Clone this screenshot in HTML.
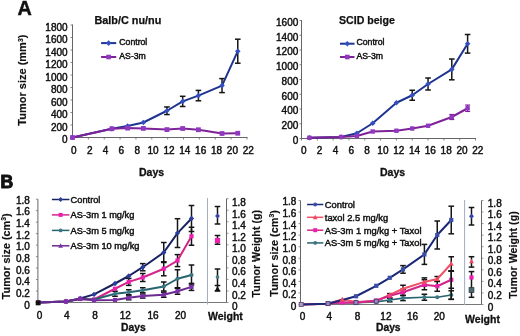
<!DOCTYPE html><html><head><meta charset="utf-8"><style>html,body{margin:0;padding:0;background:#fff;overflow:hidden;}svg{display:block;will-change:transform;filter:blur(0.25px);}text{font-family:"Liberation Sans", sans-serif;}</style></head><body>
<svg width="520" height="336" viewBox="0 0 520 336">
<rect width="520" height="336" fill="#fff"/>
<text x="17.40" y="15.40" font-size="19.8" font-weight="bold" text-anchor="start" fill="#111" stroke="#111" stroke-width="0.45" >A</text>
<text x="0.60" y="187.90" font-size="17.6" font-weight="bold" text-anchor="start" fill="#111" stroke="#111" stroke-width="1.0" >B</text>
<line x1="72.50" y1="24.50" x2="72.50" y2="138.00" stroke="#666666" stroke-width="1" />
<line x1="72.00" y1="137.50" x2="247.46" y2="137.50" stroke="#666666" stroke-width="1" />
<line x1="70.50" y1="137.50" x2="72.50" y2="137.50" stroke="#666666" stroke-width="0.8" />
<text x="67.60" y="143.10" font-size="10" font-weight="normal" text-anchor="end" fill="#111" stroke="#111" stroke-width="0.45" >0</text>
<line x1="70.50" y1="125.00" x2="72.50" y2="125.00" stroke="#666666" stroke-width="0.8" />
<text x="67.60" y="130.60" font-size="10" font-weight="normal" text-anchor="end" fill="#111" stroke="#111" stroke-width="0.45" >200</text>
<line x1="70.50" y1="112.50" x2="72.50" y2="112.50" stroke="#666666" stroke-width="0.8" />
<text x="67.60" y="118.10" font-size="10" font-weight="normal" text-anchor="end" fill="#111" stroke="#111" stroke-width="0.45" >400</text>
<line x1="70.50" y1="100.00" x2="72.50" y2="100.00" stroke="#666666" stroke-width="0.8" />
<text x="67.60" y="105.60" font-size="10" font-weight="normal" text-anchor="end" fill="#111" stroke="#111" stroke-width="0.45" >600</text>
<line x1="70.50" y1="87.50" x2="72.50" y2="87.50" stroke="#666666" stroke-width="0.8" />
<text x="67.60" y="93.10" font-size="10" font-weight="normal" text-anchor="end" fill="#111" stroke="#111" stroke-width="0.45" >800</text>
<line x1="70.50" y1="75.00" x2="72.50" y2="75.00" stroke="#666666" stroke-width="0.8" />
<text x="67.60" y="80.60" font-size="10" font-weight="normal" text-anchor="end" fill="#111" stroke="#111" stroke-width="0.45" >1000</text>
<line x1="70.50" y1="62.50" x2="72.50" y2="62.50" stroke="#666666" stroke-width="0.8" />
<text x="67.60" y="68.10" font-size="10" font-weight="normal" text-anchor="end" fill="#111" stroke="#111" stroke-width="0.45" >1200</text>
<line x1="70.50" y1="50.00" x2="72.50" y2="50.00" stroke="#666666" stroke-width="0.8" />
<text x="67.60" y="55.60" font-size="10" font-weight="normal" text-anchor="end" fill="#111" stroke="#111" stroke-width="0.45" >1400</text>
<line x1="70.50" y1="37.50" x2="72.50" y2="37.50" stroke="#666666" stroke-width="0.8" />
<text x="67.60" y="43.10" font-size="10" font-weight="normal" text-anchor="end" fill="#111" stroke="#111" stroke-width="0.45" >1600</text>
<line x1="70.50" y1="25.00" x2="72.50" y2="25.00" stroke="#666666" stroke-width="0.8" />
<text x="67.60" y="30.60" font-size="10" font-weight="normal" text-anchor="end" fill="#111" stroke="#111" stroke-width="0.45" >1800</text>
<line x1="72.50" y1="137.50" x2="72.50" y2="139.50" stroke="#666666" stroke-width="0.8" />
<text x="73.80" y="153.90" font-size="10" font-weight="normal" text-anchor="middle" fill="#111" stroke="#111" stroke-width="0.45" >0</text>
<line x1="88.36" y1="137.50" x2="88.36" y2="139.50" stroke="#666666" stroke-width="0.8" />
<text x="89.66" y="153.90" font-size="10" font-weight="normal" text-anchor="middle" fill="#111" stroke="#111" stroke-width="0.45" >2</text>
<line x1="104.22" y1="137.50" x2="104.22" y2="139.50" stroke="#666666" stroke-width="0.8" />
<text x="105.52" y="153.90" font-size="10" font-weight="normal" text-anchor="middle" fill="#111" stroke="#111" stroke-width="0.45" >4</text>
<line x1="120.08" y1="137.50" x2="120.08" y2="139.50" stroke="#666666" stroke-width="0.8" />
<text x="121.38" y="153.90" font-size="10" font-weight="normal" text-anchor="middle" fill="#111" stroke="#111" stroke-width="0.45" >6</text>
<line x1="135.94" y1="137.50" x2="135.94" y2="139.50" stroke="#666666" stroke-width="0.8" />
<text x="137.24" y="153.90" font-size="10" font-weight="normal" text-anchor="middle" fill="#111" stroke="#111" stroke-width="0.45" >8</text>
<line x1="151.80" y1="137.50" x2="151.80" y2="139.50" stroke="#666666" stroke-width="0.8" />
<text x="153.10" y="153.90" font-size="10" font-weight="normal" text-anchor="middle" fill="#111" stroke="#111" stroke-width="0.45" >10</text>
<line x1="167.66" y1="137.50" x2="167.66" y2="139.50" stroke="#666666" stroke-width="0.8" />
<text x="168.96" y="153.90" font-size="10" font-weight="normal" text-anchor="middle" fill="#111" stroke="#111" stroke-width="0.45" >12</text>
<line x1="183.52" y1="137.50" x2="183.52" y2="139.50" stroke="#666666" stroke-width="0.8" />
<text x="184.82" y="153.90" font-size="10" font-weight="normal" text-anchor="middle" fill="#111" stroke="#111" stroke-width="0.45" >14</text>
<line x1="199.38" y1="137.50" x2="199.38" y2="139.50" stroke="#666666" stroke-width="0.8" />
<text x="200.68" y="153.90" font-size="10" font-weight="normal" text-anchor="middle" fill="#111" stroke="#111" stroke-width="0.45" >16</text>
<line x1="215.24" y1="137.50" x2="215.24" y2="139.50" stroke="#666666" stroke-width="0.8" />
<text x="216.54" y="153.90" font-size="10" font-weight="normal" text-anchor="middle" fill="#111" stroke="#111" stroke-width="0.45" >18</text>
<line x1="231.10" y1="137.50" x2="231.10" y2="139.50" stroke="#666666" stroke-width="0.8" />
<text x="232.40" y="153.90" font-size="10" font-weight="normal" text-anchor="middle" fill="#111" stroke="#111" stroke-width="0.45" >20</text>
<line x1="246.96" y1="137.50" x2="246.96" y2="139.50" stroke="#666666" stroke-width="0.8" />
<text x="248.26" y="153.90" font-size="10" font-weight="normal" text-anchor="middle" fill="#111" stroke="#111" stroke-width="0.45" >22</text>
<text x="94.50" y="23.80" font-size="10.85" font-weight="bold" text-anchor="start" fill="#111" stroke="#111" stroke-width="0.25" >Balb/C nu/nu</text>
<text x="151.60" y="176.00" font-size="10.5" font-weight="bold" text-anchor="middle" fill="#111" stroke="#111" stroke-width="0.3" >Days</text>
<text x="392.60" y="175.80" font-size="10.5" font-weight="bold" text-anchor="middle" fill="#111" stroke="#111" stroke-width="0.3" >Days</text>
<text transform="translate(26.30,80.15) rotate(-90)" font-size="11" font-weight="bold" text-anchor="middle" fill="#111" stroke="#111" stroke-width="0.15">Tumor size (mm<tspan font-size="6.8" dy="-3.8">3</tspan><tspan dy="3.8">)</tspan></text>
<line x1="101.10" y1="43.10" x2="116.20" y2="43.10" stroke="#1e3490" stroke-width="2" />
<path d="M108.60,40.30 L111.40,43.10 L108.60,45.90 L105.80,43.10 Z" fill="#3450c0"/>
<text x="119.30" y="44.80" font-size="8.7" font-weight="normal" text-anchor="start" fill="#111" stroke="#111" stroke-width="0.45" >Control</text>
<line x1="101.10" y1="57.00" x2="116.20" y2="57.00" stroke="#7e2298" stroke-width="2" />
<rect x="106.30" y="54.70" width="4.60" height="4.60" fill="#9038c0"/>
<text x="119.30" y="58.70" font-size="8.7" font-weight="normal" text-anchor="start" fill="#111" stroke="#111" stroke-width="0.45" >AS-3m</text>
<line x1="166.94" y1="106.95" x2="166.94" y2="114.55" stroke="#151515" stroke-width="1.5" />
<line x1="164.14" y1="106.95" x2="169.74" y2="106.95" stroke="#151515" stroke-width="1.5" />
<line x1="164.14" y1="114.55" x2="169.74" y2="114.55" stroke="#151515" stroke-width="1.5" />
<line x1="182.68" y1="96.30" x2="182.68" y2="106.50" stroke="#151515" stroke-width="1.5" />
<line x1="179.88" y1="96.30" x2="185.48" y2="96.30" stroke="#151515" stroke-width="1.5" />
<line x1="179.88" y1="106.50" x2="185.48" y2="106.50" stroke="#151515" stroke-width="1.5" />
<line x1="198.42" y1="90.40" x2="198.42" y2="100.80" stroke="#151515" stroke-width="1.5" />
<line x1="195.62" y1="90.40" x2="201.22" y2="90.40" stroke="#151515" stroke-width="1.5" />
<line x1="195.62" y1="100.80" x2="201.22" y2="100.80" stroke="#151515" stroke-width="1.5" />
<line x1="222.03" y1="78.60" x2="222.03" y2="92.60" stroke="#151515" stroke-width="1.5" />
<line x1="219.23" y1="78.60" x2="224.83" y2="78.60" stroke="#151515" stroke-width="1.5" />
<line x1="219.23" y1="92.60" x2="224.83" y2="92.60" stroke="#151515" stroke-width="1.5" />
<line x1="237.77" y1="39.20" x2="237.77" y2="63.20" stroke="#151515" stroke-width="1.5" />
<line x1="234.97" y1="39.20" x2="240.57" y2="39.20" stroke="#151515" stroke-width="1.5" />
<line x1="234.97" y1="63.20" x2="240.57" y2="63.20" stroke="#151515" stroke-width="1.5" />
<polyline points="72.50,137.50 111.85,128.80 127.59,126.00 143.33,122.50 166.94,110.75 182.68,101.40 198.42,95.60 222.03,85.60 237.77,51.20" fill="none" stroke="#1e3490" stroke-width="2" stroke-linejoin="round"/>
<path d="M72.50,134.70 L75.30,137.50 L72.50,140.30 L69.70,137.50 Z" fill="#3450c0"/>
<path d="M111.85,126.00 L114.65,128.80 L111.85,131.60 L109.05,128.80 Z" fill="#3450c0"/>
<path d="M127.59,123.20 L130.39,126.00 L127.59,128.80 L124.79,126.00 Z" fill="#3450c0"/>
<path d="M143.33,119.70 L146.13,122.50 L143.33,125.30 L140.53,122.50 Z" fill="#3450c0"/>
<path d="M166.94,107.95 L169.74,110.75 L166.94,113.55 L164.14,110.75 Z" fill="#3450c0"/>
<path d="M182.68,98.60 L185.48,101.40 L182.68,104.20 L179.88,101.40 Z" fill="#3450c0"/>
<path d="M198.42,92.80 L201.22,95.60 L198.42,98.40 L195.62,95.60 Z" fill="#3450c0"/>
<path d="M222.03,82.80 L224.83,85.60 L222.03,88.40 L219.23,85.60 Z" fill="#3450c0"/>
<path d="M237.77,48.40 L240.57,51.20 L237.77,54.00 L234.97,51.20 Z" fill="#3450c0"/>
<polyline points="72.50,137.50 111.85,128.75 127.59,128.10 143.33,128.40 166.94,129.60 182.68,128.50 198.42,129.75 222.03,133.50 237.77,133.25" fill="none" stroke="#7e2298" stroke-width="2" stroke-linejoin="round"/>
<rect x="70.10" y="135.10" width="4.80" height="4.80" fill="#9038c0"/>
<rect x="109.45" y="126.35" width="4.80" height="4.80" fill="#9038c0"/>
<rect x="125.19" y="125.70" width="4.80" height="4.80" fill="#9038c0"/>
<rect x="140.93" y="126.00" width="4.80" height="4.80" fill="#9038c0"/>
<rect x="164.54" y="127.20" width="4.80" height="4.80" fill="#9038c0"/>
<rect x="180.28" y="126.10" width="4.80" height="4.80" fill="#9038c0"/>
<rect x="196.02" y="127.35" width="4.80" height="4.80" fill="#9038c0"/>
<rect x="219.63" y="131.10" width="4.80" height="4.80" fill="#9038c0"/>
<rect x="235.37" y="130.85" width="4.80" height="4.80" fill="#9038c0"/>
<line x1="301.50" y1="20.00" x2="301.50" y2="139.00" stroke="#666666" stroke-width="1" />
<line x1="301.00" y1="138.50" x2="476.02" y2="138.50" stroke="#666666" stroke-width="1" />
<line x1="299.50" y1="138.50" x2="301.50" y2="138.50" stroke="#666666" stroke-width="0.8" />
<text x="298.30" y="143.90" font-size="10" font-weight="normal" text-anchor="end" fill="#111" stroke="#111" stroke-width="0.45" >0</text>
<line x1="299.50" y1="123.75" x2="301.50" y2="123.75" stroke="#666666" stroke-width="0.8" />
<text x="298.30" y="129.15" font-size="10" font-weight="normal" text-anchor="end" fill="#111" stroke="#111" stroke-width="0.45" >200</text>
<line x1="299.50" y1="109.00" x2="301.50" y2="109.00" stroke="#666666" stroke-width="0.8" />
<text x="298.30" y="114.40" font-size="10" font-weight="normal" text-anchor="end" fill="#111" stroke="#111" stroke-width="0.45" >400</text>
<line x1="299.50" y1="94.25" x2="301.50" y2="94.25" stroke="#666666" stroke-width="0.8" />
<text x="298.30" y="99.65" font-size="10" font-weight="normal" text-anchor="end" fill="#111" stroke="#111" stroke-width="0.45" >600</text>
<line x1="299.50" y1="79.50" x2="301.50" y2="79.50" stroke="#666666" stroke-width="0.8" />
<text x="298.30" y="84.90" font-size="10" font-weight="normal" text-anchor="end" fill="#111" stroke="#111" stroke-width="0.45" >800</text>
<line x1="299.50" y1="64.75" x2="301.50" y2="64.75" stroke="#666666" stroke-width="0.8" />
<text x="298.30" y="70.15" font-size="10" font-weight="normal" text-anchor="end" fill="#111" stroke="#111" stroke-width="0.45" >1000</text>
<line x1="299.50" y1="50.00" x2="301.50" y2="50.00" stroke="#666666" stroke-width="0.8" />
<text x="298.30" y="55.40" font-size="10" font-weight="normal" text-anchor="end" fill="#111" stroke="#111" stroke-width="0.45" >1200</text>
<line x1="299.50" y1="35.25" x2="301.50" y2="35.25" stroke="#666666" stroke-width="0.8" />
<text x="298.30" y="40.65" font-size="10" font-weight="normal" text-anchor="end" fill="#111" stroke="#111" stroke-width="0.45" >1400</text>
<line x1="299.50" y1="20.50" x2="301.50" y2="20.50" stroke="#666666" stroke-width="0.8" />
<text x="298.30" y="25.90" font-size="10" font-weight="normal" text-anchor="end" fill="#111" stroke="#111" stroke-width="0.45" >1600</text>
<line x1="301.50" y1="138.50" x2="301.50" y2="140.50" stroke="#666666" stroke-width="0.8" />
<text x="303.80" y="153.90" font-size="10" font-weight="normal" text-anchor="middle" fill="#111" stroke="#111" stroke-width="0.45" >0</text>
<line x1="317.32" y1="138.50" x2="317.32" y2="140.50" stroke="#666666" stroke-width="0.8" />
<text x="319.62" y="153.90" font-size="10" font-weight="normal" text-anchor="middle" fill="#111" stroke="#111" stroke-width="0.45" >2</text>
<line x1="333.14" y1="138.50" x2="333.14" y2="140.50" stroke="#666666" stroke-width="0.8" />
<text x="335.44" y="153.90" font-size="10" font-weight="normal" text-anchor="middle" fill="#111" stroke="#111" stroke-width="0.45" >4</text>
<line x1="348.96" y1="138.50" x2="348.96" y2="140.50" stroke="#666666" stroke-width="0.8" />
<text x="351.26" y="153.90" font-size="10" font-weight="normal" text-anchor="middle" fill="#111" stroke="#111" stroke-width="0.45" >6</text>
<line x1="364.78" y1="138.50" x2="364.78" y2="140.50" stroke="#666666" stroke-width="0.8" />
<text x="367.08" y="153.90" font-size="10" font-weight="normal" text-anchor="middle" fill="#111" stroke="#111" stroke-width="0.45" >8</text>
<line x1="380.60" y1="138.50" x2="380.60" y2="140.50" stroke="#666666" stroke-width="0.8" />
<text x="382.90" y="153.90" font-size="10" font-weight="normal" text-anchor="middle" fill="#111" stroke="#111" stroke-width="0.45" >10</text>
<line x1="396.42" y1="138.50" x2="396.42" y2="140.50" stroke="#666666" stroke-width="0.8" />
<text x="398.72" y="153.90" font-size="10" font-weight="normal" text-anchor="middle" fill="#111" stroke="#111" stroke-width="0.45" >12</text>
<line x1="412.24" y1="138.50" x2="412.24" y2="140.50" stroke="#666666" stroke-width="0.8" />
<text x="414.54" y="153.90" font-size="10" font-weight="normal" text-anchor="middle" fill="#111" stroke="#111" stroke-width="0.45" >14</text>
<line x1="428.06" y1="138.50" x2="428.06" y2="140.50" stroke="#666666" stroke-width="0.8" />
<text x="430.36" y="153.90" font-size="10" font-weight="normal" text-anchor="middle" fill="#111" stroke="#111" stroke-width="0.45" >16</text>
<line x1="443.88" y1="138.50" x2="443.88" y2="140.50" stroke="#666666" stroke-width="0.8" />
<text x="446.18" y="153.90" font-size="10" font-weight="normal" text-anchor="middle" fill="#111" stroke="#111" stroke-width="0.45" >18</text>
<line x1="459.70" y1="138.50" x2="459.70" y2="140.50" stroke="#666666" stroke-width="0.8" />
<text x="462.00" y="153.90" font-size="10" font-weight="normal" text-anchor="middle" fill="#111" stroke="#111" stroke-width="0.45" >20</text>
<line x1="475.52" y1="138.50" x2="475.52" y2="140.50" stroke="#666666" stroke-width="0.8" />
<text x="477.82" y="153.90" font-size="10" font-weight="normal" text-anchor="middle" fill="#111" stroke="#111" stroke-width="0.45" >22</text>
<text x="339.00" y="23.60" font-size="10.6" font-weight="bold" text-anchor="start" fill="#111" stroke="#111" stroke-width="0.25" >SCID beige</text>
<line x1="340.00" y1="43.70" x2="354.50" y2="43.70" stroke="#1e3490" stroke-width="2" />
<path d="M347.30,40.90 L350.10,43.70 L347.30,46.50 L344.50,43.70 Z" fill="#3450c0"/>
<text x="356.50" y="44.60" font-size="8.7" font-weight="normal" text-anchor="start" fill="#111" stroke="#111" stroke-width="0.45" >Control</text>
<line x1="340.00" y1="57.00" x2="354.50" y2="57.00" stroke="#7e2298" stroke-width="2" />
<rect x="345.00" y="54.70" width="4.60" height="4.60" fill="#9038c0"/>
<text x="356.50" y="58.70" font-size="8.7" font-weight="normal" text-anchor="start" fill="#111" stroke="#111" stroke-width="0.45" >AS-3m</text>
<line x1="412.24" y1="90.25" x2="412.24" y2="100.25" stroke="#151515" stroke-width="1.5" />
<line x1="409.44" y1="90.25" x2="415.04" y2="90.25" stroke="#151515" stroke-width="1.5" />
<line x1="409.44" y1="100.25" x2="415.04" y2="100.25" stroke="#151515" stroke-width="1.5" />
<line x1="428.06" y1="78.00" x2="428.06" y2="90.00" stroke="#151515" stroke-width="1.5" />
<line x1="425.26" y1="78.00" x2="430.86" y2="78.00" stroke="#151515" stroke-width="1.5" />
<line x1="425.26" y1="90.00" x2="430.86" y2="90.00" stroke="#151515" stroke-width="1.5" />
<line x1="451.79" y1="59.00" x2="451.79" y2="79.80" stroke="#151515" stroke-width="1.5" />
<line x1="448.99" y1="59.00" x2="454.59" y2="59.00" stroke="#151515" stroke-width="1.5" />
<line x1="448.99" y1="79.80" x2="454.59" y2="79.80" stroke="#151515" stroke-width="1.5" />
<line x1="467.61" y1="34.50" x2="467.61" y2="53.10" stroke="#151515" stroke-width="1.5" />
<line x1="464.81" y1="34.50" x2="470.41" y2="34.50" stroke="#151515" stroke-width="1.5" />
<line x1="464.81" y1="53.10" x2="470.41" y2="53.10" stroke="#151515" stroke-width="1.5" />
<line x1="451.79" y1="114.50" x2="451.79" y2="119.50" stroke="#7e2298" stroke-width="1.2" />
<line x1="449.29" y1="114.50" x2="454.29" y2="114.50" stroke="#7e2298" stroke-width="1.2" />
<line x1="449.29" y1="119.50" x2="454.29" y2="119.50" stroke="#7e2298" stroke-width="1.2" />
<line x1="467.61" y1="105.05" x2="467.61" y2="111.45" stroke="#7e2298" stroke-width="1.2" />
<line x1="465.11" y1="105.05" x2="470.11" y2="105.05" stroke="#7e2298" stroke-width="1.2" />
<line x1="465.11" y1="111.45" x2="470.11" y2="111.45" stroke="#7e2298" stroke-width="1.2" />
<polyline points="309.41,137.80 341.05,137.00 356.87,133.25 372.69,123.25 396.42,102.75 412.24,95.25 428.06,84.00 451.79,69.40 467.61,43.80" fill="none" stroke="#1e3490" stroke-width="2" stroke-linejoin="round"/>
<path d="M309.41,135.00 L312.21,137.80 L309.41,140.60 L306.61,137.80 Z" fill="#3450c0"/>
<path d="M341.05,134.20 L343.85,137.00 L341.05,139.80 L338.25,137.00 Z" fill="#3450c0"/>
<path d="M356.87,130.45 L359.67,133.25 L356.87,136.05 L354.07,133.25 Z" fill="#3450c0"/>
<path d="M372.69,120.45 L375.49,123.25 L372.69,126.05 L369.89,123.25 Z" fill="#3450c0"/>
<path d="M396.42,99.95 L399.22,102.75 L396.42,105.55 L393.62,102.75 Z" fill="#3450c0"/>
<path d="M412.24,92.45 L415.04,95.25 L412.24,98.05 L409.44,95.25 Z" fill="#3450c0"/>
<path d="M428.06,81.20 L430.86,84.00 L428.06,86.80 L425.26,84.00 Z" fill="#3450c0"/>
<path d="M451.79,66.60 L454.59,69.40 L451.79,72.20 L448.99,69.40 Z" fill="#3450c0"/>
<path d="M467.61,41.00 L470.41,43.80 L467.61,46.60 L464.81,43.80 Z" fill="#3450c0"/>
<polyline points="309.41,137.80 341.05,137.00 356.87,136.00 372.69,131.50 396.42,130.75 412.24,128.50 428.06,125.75 451.79,117.00 467.61,108.25" fill="none" stroke="#7e2298" stroke-width="2" stroke-linejoin="round"/>
<rect x="307.21" y="135.60" width="4.40" height="4.40" fill="#9038c0"/>
<rect x="338.85" y="134.80" width="4.40" height="4.40" fill="#9038c0"/>
<rect x="354.67" y="133.80" width="4.40" height="4.40" fill="#9038c0"/>
<rect x="370.49" y="129.30" width="4.40" height="4.40" fill="#9038c0"/>
<rect x="394.22" y="128.55" width="4.40" height="4.40" fill="#9038c0"/>
<rect x="410.04" y="126.30" width="4.40" height="4.40" fill="#9038c0"/>
<rect x="425.86" y="123.55" width="4.40" height="4.40" fill="#9038c0"/>
<rect x="449.59" y="114.80" width="4.40" height="4.40" fill="#9038c0"/>
<rect x="465.41" y="106.05" width="4.40" height="4.40" fill="#9038c0"/>
<line x1="37.90" y1="199.20" x2="37.90" y2="303.00" stroke="#666666" stroke-width="1" />
<line x1="37.40" y1="302.50" x2="226.50" y2="302.50" stroke="#777" stroke-width="1" />
<line x1="35.90" y1="302.50" x2="37.90" y2="302.50" stroke="#666666" stroke-width="0.7" />
<text x="29.80" y="308.50" font-size="10" font-weight="normal" text-anchor="end" fill="#111" stroke="#111" stroke-width="0.45" >0</text>
<line x1="35.90" y1="291.02" x2="37.90" y2="291.02" stroke="#666666" stroke-width="0.7" />
<text x="29.80" y="296.87" font-size="10" font-weight="normal" text-anchor="end" fill="#111" stroke="#111" stroke-width="0.45" >0.2</text>
<line x1="35.90" y1="279.54" x2="37.90" y2="279.54" stroke="#666666" stroke-width="0.7" />
<text x="29.80" y="285.24" font-size="10" font-weight="normal" text-anchor="end" fill="#111" stroke="#111" stroke-width="0.45" >0.4</text>
<line x1="35.90" y1="268.07" x2="37.90" y2="268.07" stroke="#666666" stroke-width="0.7" />
<text x="29.80" y="273.61" font-size="10" font-weight="normal" text-anchor="end" fill="#111" stroke="#111" stroke-width="0.45" >0.6</text>
<line x1="35.90" y1="256.59" x2="37.90" y2="256.59" stroke="#666666" stroke-width="0.7" />
<text x="29.80" y="261.98" font-size="10" font-weight="normal" text-anchor="end" fill="#111" stroke="#111" stroke-width="0.45" >0.8</text>
<line x1="35.90" y1="245.11" x2="37.90" y2="245.11" stroke="#666666" stroke-width="0.7" />
<text x="29.80" y="250.35" font-size="10" font-weight="normal" text-anchor="end" fill="#111" stroke="#111" stroke-width="0.45" >1.0</text>
<line x1="35.90" y1="233.63" x2="37.90" y2="233.63" stroke="#666666" stroke-width="0.7" />
<text x="29.80" y="238.72" font-size="10" font-weight="normal" text-anchor="end" fill="#111" stroke="#111" stroke-width="0.45" >1.2</text>
<line x1="35.90" y1="222.16" x2="37.90" y2="222.16" stroke="#666666" stroke-width="0.7" />
<text x="29.80" y="227.09" font-size="10" font-weight="normal" text-anchor="end" fill="#111" stroke="#111" stroke-width="0.45" >1.4</text>
<line x1="35.90" y1="210.68" x2="37.90" y2="210.68" stroke="#666666" stroke-width="0.7" />
<text x="29.80" y="215.46" font-size="10" font-weight="normal" text-anchor="end" fill="#111" stroke="#111" stroke-width="0.45" >1.6</text>
<line x1="35.90" y1="199.20" x2="37.90" y2="199.20" stroke="#666666" stroke-width="0.7" />
<text x="29.80" y="203.83" font-size="10" font-weight="normal" text-anchor="end" fill="#111" stroke="#111" stroke-width="0.45" >1.8</text>
<text x="39.60" y="318.60" font-size="10" font-weight="normal" text-anchor="middle" fill="#111" stroke="#111" stroke-width="0.45" >0</text>
<text x="66.90" y="318.60" font-size="10" font-weight="normal" text-anchor="middle" fill="#111" stroke="#111" stroke-width="0.45" >4</text>
<text x="95.00" y="318.60" font-size="10" font-weight="normal" text-anchor="middle" fill="#111" stroke="#111" stroke-width="0.45" >8</text>
<text x="125.20" y="318.60" font-size="10" font-weight="normal" text-anchor="middle" fill="#111" stroke="#111" stroke-width="0.45" >12</text>
<text x="153.00" y="318.60" font-size="10" font-weight="normal" text-anchor="middle" fill="#111" stroke="#111" stroke-width="0.45" >16</text>
<text x="180.50" y="318.60" font-size="10" font-weight="normal" text-anchor="middle" fill="#111" stroke="#111" stroke-width="0.45" >20</text>
<text x="133.35" y="331.20" font-size="10.3" font-weight="bold" text-anchor="middle" fill="#111" stroke="#111" stroke-width="0.3" >Days</text>
<text transform="translate(9.60,256.30) rotate(-90)" font-size="10.8" font-weight="bold" text-anchor="middle" fill="#111" stroke="#111" stroke-width="0.15">Tumor size (cm<tspan font-size="6.8" dy="-3.8">3</tspan><tspan dy="3.8">)</tspan></text>
<line x1="51.90" y1="199.50" x2="69.40" y2="199.50" stroke="#18225f" stroke-width="1.5" />
<path d="M60.60,197.10 L63.00,199.50 L60.60,201.90 L58.20,199.50 Z" fill="#2c3c9c"/>
<text x="70.60" y="202.80" font-size="9.25" font-weight="normal" text-anchor="start" fill="#111" stroke="#111" stroke-width="0.45" >Control</text>
<line x1="51.90" y1="214.90" x2="69.40" y2="214.90" stroke="#d42689" stroke-width="1.5" />
<rect x="58.60" y="212.90" width="4.00" height="4.00" fill="#ec20b0"/>
<text x="70.60" y="218.20" font-size="9.25" font-weight="normal" text-anchor="start" fill="#111" stroke="#111" stroke-width="0.45" >AS-3m 1 mg/kg</text>
<line x1="51.90" y1="230.40" x2="69.40" y2="230.40" stroke="#28646f" stroke-width="1.5" />
<circle cx="60.60" cy="230.40" r="1.90" fill="#3a7684"/>
<text x="70.60" y="233.70" font-size="9.25" font-weight="normal" text-anchor="start" fill="#111" stroke="#111" stroke-width="0.45" >AS-3m 5 mg/kg</text>
<line x1="51.90" y1="245.80" x2="69.40" y2="245.80" stroke="#6a2a90" stroke-width="1.5" />
<path d="M60.60,243.27 L62.90,247.64 L58.30,247.64 Z" fill="#7a30a8"/>
<text x="70.60" y="249.10" font-size="9.25" font-weight="normal" text-anchor="start" fill="#111" stroke="#111" stroke-width="0.45" >AS-3m 10 mg/kg</text>
<line x1="142.75" y1="263.60" x2="142.75" y2="270.80" stroke="#151515" stroke-width="1.5" />
<line x1="139.95" y1="263.60" x2="145.55" y2="263.60" stroke="#151515" stroke-width="1.5" />
<line x1="139.95" y1="270.80" x2="145.55" y2="270.80" stroke="#151515" stroke-width="1.5" />
<line x1="163.75" y1="242.50" x2="163.75" y2="262.50" stroke="#151515" stroke-width="1.5" />
<line x1="160.95" y1="242.50" x2="166.55" y2="242.50" stroke="#151515" stroke-width="1.5" />
<line x1="160.95" y1="262.50" x2="166.55" y2="262.50" stroke="#151515" stroke-width="1.5" />
<line x1="177.50" y1="218.70" x2="177.50" y2="247.50" stroke="#151515" stroke-width="1.5" />
<line x1="174.70" y1="218.70" x2="180.30" y2="218.70" stroke="#151515" stroke-width="1.5" />
<line x1="174.70" y1="247.50" x2="180.30" y2="247.50" stroke="#151515" stroke-width="1.5" />
<line x1="191.50" y1="205.50" x2="191.50" y2="231.50" stroke="#151515" stroke-width="1.5" />
<line x1="188.70" y1="205.50" x2="194.30" y2="205.50" stroke="#151515" stroke-width="1.5" />
<line x1="188.70" y1="231.50" x2="194.30" y2="231.50" stroke="#151515" stroke-width="1.5" />
<line x1="128.75" y1="278.40" x2="128.75" y2="285.40" stroke="#151515" stroke-width="1.5" />
<line x1="125.95" y1="278.40" x2="131.55" y2="278.40" stroke="#151515" stroke-width="1.5" />
<line x1="125.95" y1="285.40" x2="131.55" y2="285.40" stroke="#151515" stroke-width="1.5" />
<line x1="142.75" y1="273.50" x2="142.75" y2="281.50" stroke="#151515" stroke-width="1.5" />
<line x1="139.95" y1="273.50" x2="145.55" y2="273.50" stroke="#151515" stroke-width="1.5" />
<line x1="139.95" y1="281.50" x2="145.55" y2="281.50" stroke="#151515" stroke-width="1.5" />
<line x1="163.75" y1="261.75" x2="163.75" y2="275.75" stroke="#151515" stroke-width="1.5" />
<line x1="160.95" y1="261.75" x2="166.55" y2="261.75" stroke="#151515" stroke-width="1.5" />
<line x1="160.95" y1="275.75" x2="166.55" y2="275.75" stroke="#151515" stroke-width="1.5" />
<line x1="177.50" y1="254.60" x2="177.50" y2="266.60" stroke="#151515" stroke-width="1.5" />
<line x1="174.70" y1="254.60" x2="180.30" y2="254.60" stroke="#151515" stroke-width="1.5" />
<line x1="174.70" y1="266.60" x2="180.30" y2="266.60" stroke="#151515" stroke-width="1.5" />
<line x1="191.50" y1="227.25" x2="191.50" y2="245.25" stroke="#151515" stroke-width="1.5" />
<line x1="188.70" y1="227.25" x2="194.30" y2="227.25" stroke="#151515" stroke-width="1.5" />
<line x1="188.70" y1="245.25" x2="194.30" y2="245.25" stroke="#151515" stroke-width="1.5" />
<line x1="115.00" y1="291.25" x2="115.00" y2="296.25" stroke="#151515" stroke-width="1.5" />
<line x1="112.20" y1="291.25" x2="117.80" y2="291.25" stroke="#151515" stroke-width="1.5" />
<line x1="112.20" y1="296.25" x2="117.80" y2="296.25" stroke="#151515" stroke-width="1.5" />
<line x1="128.75" y1="289.75" x2="128.75" y2="294.75" stroke="#151515" stroke-width="1.5" />
<line x1="125.95" y1="289.75" x2="131.55" y2="289.75" stroke="#151515" stroke-width="1.5" />
<line x1="125.95" y1="294.75" x2="131.55" y2="294.75" stroke="#151515" stroke-width="1.5" />
<line x1="142.75" y1="287.75" x2="142.75" y2="292.75" stroke="#151515" stroke-width="1.5" />
<line x1="139.95" y1="287.75" x2="145.55" y2="287.75" stroke="#151515" stroke-width="1.5" />
<line x1="139.95" y1="292.75" x2="145.55" y2="292.75" stroke="#151515" stroke-width="1.5" />
<line x1="163.75" y1="282.00" x2="163.75" y2="291.00" stroke="#151515" stroke-width="1.5" />
<line x1="160.95" y1="282.00" x2="166.55" y2="282.00" stroke="#151515" stroke-width="1.5" />
<line x1="160.95" y1="291.00" x2="166.55" y2="291.00" stroke="#151515" stroke-width="1.5" />
<line x1="177.50" y1="269.75" x2="177.50" y2="287.75" stroke="#151515" stroke-width="1.5" />
<line x1="174.70" y1="269.75" x2="180.30" y2="269.75" stroke="#151515" stroke-width="1.5" />
<line x1="174.70" y1="287.75" x2="180.30" y2="287.75" stroke="#151515" stroke-width="1.5" />
<line x1="191.50" y1="265.00" x2="191.50" y2="285.00" stroke="#151515" stroke-width="1.5" />
<line x1="188.70" y1="265.00" x2="194.30" y2="265.00" stroke="#151515" stroke-width="1.5" />
<line x1="188.70" y1="285.00" x2="194.30" y2="285.00" stroke="#151515" stroke-width="1.5" />
<line x1="128.75" y1="295.80" x2="128.75" y2="299.80" stroke="#151515" stroke-width="1.5" />
<line x1="125.95" y1="295.80" x2="131.55" y2="295.80" stroke="#151515" stroke-width="1.5" />
<line x1="125.95" y1="299.80" x2="131.55" y2="299.80" stroke="#151515" stroke-width="1.5" />
<line x1="142.75" y1="294.10" x2="142.75" y2="298.10" stroke="#151515" stroke-width="1.5" />
<line x1="139.95" y1="294.10" x2="145.55" y2="294.10" stroke="#151515" stroke-width="1.5" />
<line x1="139.95" y1="298.10" x2="145.55" y2="298.10" stroke="#151515" stroke-width="1.5" />
<line x1="163.75" y1="292.25" x2="163.75" y2="297.25" stroke="#151515" stroke-width="1.5" />
<line x1="160.95" y1="292.25" x2="166.55" y2="292.25" stroke="#151515" stroke-width="1.5" />
<line x1="160.95" y1="297.25" x2="166.55" y2="297.25" stroke="#151515" stroke-width="1.5" />
<line x1="177.50" y1="288.25" x2="177.50" y2="294.25" stroke="#151515" stroke-width="1.5" />
<line x1="174.70" y1="288.25" x2="180.30" y2="288.25" stroke="#151515" stroke-width="1.5" />
<line x1="174.70" y1="294.25" x2="180.30" y2="294.25" stroke="#151515" stroke-width="1.5" />
<line x1="191.50" y1="283.40" x2="191.50" y2="290.40" stroke="#151515" stroke-width="1.5" />
<line x1="188.70" y1="283.40" x2="194.30" y2="283.40" stroke="#151515" stroke-width="1.5" />
<line x1="188.70" y1="290.40" x2="194.30" y2="290.40" stroke="#151515" stroke-width="1.5" />
<polyline points="38.30,302.50 66.00,301.50 80.20,298.50 94.00,294.40 115.00,283.50 128.75,276.00 142.75,267.20 163.75,252.50 177.50,233.10 191.50,218.50" fill="none" stroke="#18225f" stroke-width="2" stroke-linejoin="round"/>
<path d="M38.30,299.80 L41.00,302.50 L38.30,305.20 L35.60,302.50 Z" fill="#2c3c9c"/>
<path d="M66.00,298.80 L68.70,301.50 L66.00,304.20 L63.30,301.50 Z" fill="#2c3c9c"/>
<path d="M80.20,295.80 L82.90,298.50 L80.20,301.20 L77.50,298.50 Z" fill="#2c3c9c"/>
<path d="M94.00,291.70 L96.70,294.40 L94.00,297.10 L91.30,294.40 Z" fill="#2c3c9c"/>
<path d="M115.00,280.80 L117.70,283.50 L115.00,286.20 L112.30,283.50 Z" fill="#2c3c9c"/>
<path d="M128.75,273.30 L131.45,276.00 L128.75,278.70 L126.05,276.00 Z" fill="#2c3c9c"/>
<path d="M142.75,264.50 L145.45,267.20 L142.75,269.90 L140.05,267.20 Z" fill="#2c3c9c"/>
<path d="M163.75,249.80 L166.45,252.50 L163.75,255.20 L161.05,252.50 Z" fill="#2c3c9c"/>
<path d="M177.50,230.40 L180.20,233.10 L177.50,235.80 L174.80,233.10 Z" fill="#2c3c9c"/>
<path d="M191.50,215.80 L194.20,218.50 L191.50,221.20 L188.80,218.50 Z" fill="#2c3c9c"/>
<polyline points="38.30,302.50 66.00,301.50 80.20,299.00 94.00,299.50 115.00,288.75 128.75,281.90 142.75,277.50 163.75,268.75 177.50,260.60 191.50,236.25" fill="none" stroke="#d42689" stroke-width="2" stroke-linejoin="round"/>
<rect x="36.20" y="300.40" width="4.20" height="4.20" fill="#ec20b0"/>
<rect x="63.90" y="299.40" width="4.20" height="4.20" fill="#ec20b0"/>
<rect x="78.10" y="296.90" width="4.20" height="4.20" fill="#ec20b0"/>
<rect x="91.90" y="297.40" width="4.20" height="4.20" fill="#ec20b0"/>
<rect x="112.90" y="286.65" width="4.20" height="4.20" fill="#ec20b0"/>
<rect x="126.65" y="279.80" width="4.20" height="4.20" fill="#ec20b0"/>
<rect x="140.65" y="275.40" width="4.20" height="4.20" fill="#ec20b0"/>
<rect x="161.65" y="266.65" width="4.20" height="4.20" fill="#ec20b0"/>
<rect x="175.40" y="258.50" width="4.20" height="4.20" fill="#ec20b0"/>
<rect x="189.40" y="234.15" width="4.20" height="4.20" fill="#ec20b0"/>
<polyline points="38.30,302.50 66.00,301.50 80.20,299.00 94.00,299.50 115.00,293.75 128.75,292.25 142.75,290.25 163.75,286.50 177.50,278.75 191.50,275.00" fill="none" stroke="#28646f" stroke-width="2" stroke-linejoin="round"/>
<circle cx="38.30" cy="302.50" r="2.10" fill="#3a7684"/>
<circle cx="66.00" cy="301.50" r="2.10" fill="#3a7684"/>
<circle cx="80.20" cy="299.00" r="2.10" fill="#3a7684"/>
<circle cx="94.00" cy="299.50" r="2.10" fill="#3a7684"/>
<circle cx="115.00" cy="293.75" r="2.10" fill="#3a7684"/>
<circle cx="128.75" cy="292.25" r="2.10" fill="#3a7684"/>
<circle cx="142.75" cy="290.25" r="2.10" fill="#3a7684"/>
<circle cx="163.75" cy="286.50" r="2.10" fill="#3a7684"/>
<circle cx="177.50" cy="278.75" r="2.10" fill="#3a7684"/>
<circle cx="191.50" cy="275.00" r="2.10" fill="#3a7684"/>
<polyline points="38.30,302.50 66.00,301.50 80.20,298.80 94.00,300.20 115.00,300.00 128.75,297.80 142.75,296.10 163.75,294.75 177.50,291.25 191.50,286.90" fill="none" stroke="#6a2a90" stroke-width="2" stroke-linejoin="round"/>
<rect x="36.20" y="300.40" width="4.20" height="4.20" fill="#7a30a8"/>
<rect x="63.90" y="299.40" width="4.20" height="4.20" fill="#7a30a8"/>
<rect x="78.10" y="296.70" width="4.20" height="4.20" fill="#7a30a8"/>
<rect x="91.90" y="298.10" width="4.20" height="4.20" fill="#7a30a8"/>
<rect x="112.90" y="297.90" width="4.20" height="4.20" fill="#7a30a8"/>
<rect x="126.65" y="295.70" width="4.20" height="4.20" fill="#7a30a8"/>
<rect x="140.65" y="294.00" width="4.20" height="4.20" fill="#7a30a8"/>
<rect x="161.65" y="292.65" width="4.20" height="4.20" fill="#7a30a8"/>
<rect x="175.40" y="289.15" width="4.20" height="4.20" fill="#7a30a8"/>
<rect x="189.40" y="284.80" width="4.20" height="4.20" fill="#7a30a8"/>
<rect x="35.70" y="300.50" width="4.80" height="4.80" fill="#111"/>
<line x1="207.50" y1="198.00" x2="207.50" y2="304.50" stroke="#a4acc4" stroke-width="1" />
<line x1="226.50" y1="198.70" x2="226.50" y2="302.50" stroke="#666666" stroke-width="1" />
<line x1="226.50" y1="302.50" x2="228.50" y2="302.50" stroke="#666666" stroke-width="0.7" />
<text x="232.00" y="310.10" font-size="10" font-weight="normal" text-anchor="start" fill="#111" stroke="#111" stroke-width="0.45" >0</text>
<line x1="226.50" y1="290.97" x2="228.50" y2="290.97" stroke="#666666" stroke-width="0.7" />
<text x="232.00" y="298.56" font-size="10" font-weight="normal" text-anchor="start" fill="#111" stroke="#111" stroke-width="0.45" >0.2</text>
<line x1="226.50" y1="279.43" x2="228.50" y2="279.43" stroke="#666666" stroke-width="0.7" />
<text x="232.00" y="287.02" font-size="10" font-weight="normal" text-anchor="start" fill="#111" stroke="#111" stroke-width="0.45" >0.4</text>
<line x1="226.50" y1="267.90" x2="228.50" y2="267.90" stroke="#666666" stroke-width="0.7" />
<text x="232.00" y="275.48" font-size="10" font-weight="normal" text-anchor="start" fill="#111" stroke="#111" stroke-width="0.45" >0.6</text>
<line x1="226.50" y1="256.37" x2="228.50" y2="256.37" stroke="#666666" stroke-width="0.7" />
<text x="232.00" y="263.94" font-size="10" font-weight="normal" text-anchor="start" fill="#111" stroke="#111" stroke-width="0.45" >0.8</text>
<line x1="226.50" y1="244.83" x2="228.50" y2="244.83" stroke="#666666" stroke-width="0.7" />
<text x="232.00" y="252.40" font-size="10" font-weight="normal" text-anchor="start" fill="#111" stroke="#111" stroke-width="0.45" >1.0</text>
<line x1="226.50" y1="233.30" x2="228.50" y2="233.30" stroke="#666666" stroke-width="0.7" />
<text x="232.00" y="240.86" font-size="10" font-weight="normal" text-anchor="start" fill="#111" stroke="#111" stroke-width="0.45" >1.2</text>
<line x1="226.50" y1="221.77" x2="228.50" y2="221.77" stroke="#666666" stroke-width="0.7" />
<text x="232.00" y="229.32" font-size="10" font-weight="normal" text-anchor="start" fill="#111" stroke="#111" stroke-width="0.45" >1.4</text>
<line x1="226.50" y1="210.23" x2="228.50" y2="210.23" stroke="#666666" stroke-width="0.7" />
<text x="232.00" y="217.78" font-size="10" font-weight="normal" text-anchor="start" fill="#111" stroke="#111" stroke-width="0.45" >1.6</text>
<line x1="226.50" y1="198.70" x2="228.50" y2="198.70" stroke="#666666" stroke-width="0.7" />
<text x="232.00" y="206.24" font-size="10" font-weight="normal" text-anchor="start" fill="#111" stroke="#111" stroke-width="0.45" >1.8</text>
<text x="225.40" y="320.10" font-size="10.5" font-weight="bold" text-anchor="middle" fill="#111" stroke="#111" stroke-width="0.3" >Weight</text>
<text transform="translate(260.10,253.65) rotate(-90)" font-size="10.7" font-weight="bold" text-anchor="middle" fill="#111" stroke="#111" stroke-width="0.15">Tumor Weight (g)</text>
<line x1="217.50" y1="206.50" x2="217.50" y2="224.00" stroke="#151515" stroke-width="1.5" />
<line x1="214.70" y1="206.50" x2="220.30" y2="206.50" stroke="#151515" stroke-width="1.5" />
<line x1="214.70" y1="224.00" x2="220.30" y2="224.00" stroke="#151515" stroke-width="1.5" />
<path d="M217.50,213.50 L220.00,216.00 L217.50,218.50 L215.00,216.00 Z" fill="#3444b0"/>
<line x1="217.50" y1="235.50" x2="217.50" y2="244.25" stroke="#151515" stroke-width="1.5" />
<line x1="214.70" y1="235.50" x2="220.30" y2="235.50" stroke="#151515" stroke-width="1.5" />
<line x1="214.70" y1="244.25" x2="220.30" y2="244.25" stroke="#151515" stroke-width="1.5" />
<rect x="214.90" y="237.90" width="5.20" height="5.20" fill="#ec20b0"/>
<line x1="217.50" y1="269.00" x2="217.50" y2="285.50" stroke="#151515" stroke-width="1.5" />
<line x1="214.70" y1="269.00" x2="220.30" y2="269.00" stroke="#151515" stroke-width="1.5" />
<line x1="214.70" y1="285.50" x2="220.30" y2="285.50" stroke="#151515" stroke-width="1.5" />
<circle cx="217.50" cy="277.10" r="1.90" fill="#4a7a84"/>
<line x1="217.50" y1="285.50" x2="217.50" y2="291.00" stroke="#151515" stroke-width="1.5" />
<line x1="214.70" y1="291.00" x2="220.30" y2="291.00" stroke="#151515" stroke-width="1.5" />
<path d="M217.50,285.92 L220.30,291.24 L214.70,291.24 Z" fill="#111"/>
<line x1="300.50" y1="200.50" x2="300.50" y2="305.00" stroke="#666666" stroke-width="1" />
<line x1="300.00" y1="304.50" x2="481.50" y2="304.50" stroke="#777" stroke-width="1" />
<line x1="298.50" y1="304.50" x2="300.50" y2="304.50" stroke="#666666" stroke-width="0.7" />
<text x="296.40" y="310.10" font-size="10" font-weight="normal" text-anchor="end" fill="#111" stroke="#111" stroke-width="0.45" >0</text>
<line x1="298.50" y1="292.94" x2="300.50" y2="292.94" stroke="#666666" stroke-width="0.7" />
<text x="296.40" y="298.46" font-size="10" font-weight="normal" text-anchor="end" fill="#111" stroke="#111" stroke-width="0.45" >0.2</text>
<line x1="298.50" y1="281.39" x2="300.50" y2="281.39" stroke="#666666" stroke-width="0.7" />
<text x="296.40" y="286.82" font-size="10" font-weight="normal" text-anchor="end" fill="#111" stroke="#111" stroke-width="0.45" >0.4</text>
<line x1="298.50" y1="269.83" x2="300.50" y2="269.83" stroke="#666666" stroke-width="0.7" />
<text x="296.40" y="275.18" font-size="10" font-weight="normal" text-anchor="end" fill="#111" stroke="#111" stroke-width="0.45" >0.6</text>
<line x1="298.50" y1="258.28" x2="300.50" y2="258.28" stroke="#666666" stroke-width="0.7" />
<text x="296.40" y="263.54" font-size="10" font-weight="normal" text-anchor="end" fill="#111" stroke="#111" stroke-width="0.45" >0.8</text>
<line x1="298.50" y1="246.72" x2="300.50" y2="246.72" stroke="#666666" stroke-width="0.7" />
<text x="296.40" y="251.90" font-size="10" font-weight="normal" text-anchor="end" fill="#111" stroke="#111" stroke-width="0.45" >1.0</text>
<line x1="298.50" y1="235.17" x2="300.50" y2="235.17" stroke="#666666" stroke-width="0.7" />
<text x="296.40" y="240.26" font-size="10" font-weight="normal" text-anchor="end" fill="#111" stroke="#111" stroke-width="0.45" >1.2</text>
<line x1="298.50" y1="223.61" x2="300.50" y2="223.61" stroke="#666666" stroke-width="0.7" />
<text x="296.40" y="228.62" font-size="10" font-weight="normal" text-anchor="end" fill="#111" stroke="#111" stroke-width="0.45" >1.4</text>
<line x1="298.50" y1="212.06" x2="300.50" y2="212.06" stroke="#666666" stroke-width="0.7" />
<text x="296.40" y="216.98" font-size="10" font-weight="normal" text-anchor="end" fill="#111" stroke="#111" stroke-width="0.45" >1.6</text>
<line x1="298.50" y1="200.50" x2="300.50" y2="200.50" stroke="#666666" stroke-width="0.7" />
<text x="296.40" y="205.34" font-size="10" font-weight="normal" text-anchor="end" fill="#111" stroke="#111" stroke-width="0.45" >1.8</text>
<text x="302.60" y="320.40" font-size="10" font-weight="normal" text-anchor="middle" fill="#111" stroke="#111" stroke-width="0.45" >0</text>
<text x="329.40" y="320.40" font-size="10" font-weight="normal" text-anchor="middle" fill="#111" stroke="#111" stroke-width="0.45" >4</text>
<text x="357.50" y="320.40" font-size="10" font-weight="normal" text-anchor="middle" fill="#111" stroke="#111" stroke-width="0.45" >8</text>
<text x="385.90" y="320.40" font-size="10" font-weight="normal" text-anchor="middle" fill="#111" stroke="#111" stroke-width="0.45" >12</text>
<text x="412.50" y="320.40" font-size="10" font-weight="normal" text-anchor="middle" fill="#111" stroke="#111" stroke-width="0.45" >16</text>
<text x="439.30" y="320.40" font-size="10" font-weight="normal" text-anchor="middle" fill="#111" stroke="#111" stroke-width="0.45" >20</text>
<text x="388.30" y="331.00" font-size="10.3" font-weight="bold" text-anchor="middle" fill="#111" stroke="#111" stroke-width="0.3" >Days</text>
<text transform="translate(278.00,253.40) rotate(-90)" font-size="10.9" font-weight="bold" text-anchor="middle" fill="#111" stroke="#111" stroke-width="0.15">Tumor size (cm<tspan font-size="6.8" dy="-3.8">3</tspan><tspan dy="3.8">)</tspan></text>
<line x1="307.10" y1="204.50" x2="323.30" y2="204.50" stroke="#1a2878" stroke-width="1.5" />
<circle cx="315.20" cy="204.50" r="1.90" fill="#3a4ea8"/>
<text x="324.80" y="207.80" font-size="9.35" font-weight="normal" text-anchor="start" fill="#111" stroke="#111" stroke-width="0.45" >Control</text>
<line x1="307.10" y1="217.30" x2="323.30" y2="217.30" stroke="#f05068" stroke-width="1.5" />
<path d="M315.20,214.77 L317.50,219.14 L312.90,219.14 Z" fill="#f04860"/>
<text x="324.80" y="220.60" font-size="9.35" font-weight="normal" text-anchor="start" fill="#111" stroke="#111" stroke-width="0.45" >taxol 2.5 mg/kg</text>
<line x1="307.10" y1="230.20" x2="323.30" y2="230.20" stroke="#d42689" stroke-width="1.5" />
<rect x="313.20" y="228.20" width="4.00" height="4.00" fill="#ec20b0"/>
<text x="324.80" y="233.50" font-size="9.35" font-weight="normal" text-anchor="start" fill="#111" stroke="#111" stroke-width="0.45" >AS-3m 1 mg/kg + Taxol</text>
<line x1="307.10" y1="242.90" x2="323.30" y2="242.90" stroke="#28646f" stroke-width="1.5" />
<circle cx="315.20" cy="242.90" r="1.90" fill="#3a7684"/>
<text x="324.80" y="246.20" font-size="9.35" font-weight="normal" text-anchor="start" fill="#111" stroke="#111" stroke-width="0.45" >AS-3m 5 mg/kg + Taxol</text>
<line x1="403.00" y1="265.60" x2="403.00" y2="273.20" stroke="#151515" stroke-width="1.5" />
<line x1="400.20" y1="265.60" x2="405.80" y2="265.60" stroke="#151515" stroke-width="1.5" />
<line x1="400.20" y1="273.20" x2="405.80" y2="273.20" stroke="#151515" stroke-width="1.5" />
<line x1="424.40" y1="244.40" x2="424.40" y2="264.40" stroke="#151515" stroke-width="1.5" />
<line x1="421.60" y1="244.40" x2="427.20" y2="244.40" stroke="#151515" stroke-width="1.5" />
<line x1="421.60" y1="264.40" x2="427.20" y2="264.40" stroke="#151515" stroke-width="1.5" />
<line x1="437.25" y1="221.00" x2="437.25" y2="249.00" stroke="#151515" stroke-width="1.5" />
<line x1="434.45" y1="221.00" x2="440.05" y2="221.00" stroke="#151515" stroke-width="1.5" />
<line x1="434.45" y1="249.00" x2="440.05" y2="249.00" stroke="#151515" stroke-width="1.5" />
<line x1="451.25" y1="206.20" x2="451.25" y2="233.80" stroke="#151515" stroke-width="1.5" />
<line x1="448.45" y1="206.20" x2="454.05" y2="206.20" stroke="#151515" stroke-width="1.5" />
<line x1="448.45" y1="233.80" x2="454.05" y2="233.80" stroke="#151515" stroke-width="1.5" />
<line x1="403.00" y1="285.25" x2="403.00" y2="292.25" stroke="#151515" stroke-width="1.5" />
<line x1="400.20" y1="285.25" x2="405.80" y2="285.25" stroke="#151515" stroke-width="1.5" />
<line x1="400.20" y1="292.25" x2="405.80" y2="292.25" stroke="#151515" stroke-width="1.5" />
<line x1="424.40" y1="277.90" x2="424.40" y2="285.90" stroke="#151515" stroke-width="1.5" />
<line x1="421.60" y1="277.90" x2="427.20" y2="277.90" stroke="#151515" stroke-width="1.5" />
<line x1="421.60" y1="285.90" x2="427.20" y2="285.90" stroke="#151515" stroke-width="1.5" />
<line x1="437.25" y1="276.50" x2="437.25" y2="281.50" stroke="#151515" stroke-width="1.5" />
<line x1="434.45" y1="276.50" x2="440.05" y2="276.50" stroke="#151515" stroke-width="1.5" />
<line x1="434.45" y1="281.50" x2="440.05" y2="281.50" stroke="#151515" stroke-width="1.5" />
<line x1="451.25" y1="256.75" x2="451.25" y2="270.75" stroke="#151515" stroke-width="1.5" />
<line x1="448.45" y1="256.75" x2="454.05" y2="256.75" stroke="#151515" stroke-width="1.5" />
<line x1="448.45" y1="270.75" x2="454.05" y2="270.75" stroke="#151515" stroke-width="1.5" />
<line x1="389.75" y1="293.60" x2="389.75" y2="298.00" stroke="#151515" stroke-width="1.5" />
<line x1="386.95" y1="293.60" x2="392.55" y2="293.60" stroke="#151515" stroke-width="1.5" />
<line x1="386.95" y1="298.00" x2="392.55" y2="298.00" stroke="#151515" stroke-width="1.5" />
<line x1="403.00" y1="289.25" x2="403.00" y2="295.25" stroke="#151515" stroke-width="1.5" />
<line x1="400.20" y1="289.25" x2="405.80" y2="289.25" stroke="#151515" stroke-width="1.5" />
<line x1="400.20" y1="295.25" x2="405.80" y2="295.25" stroke="#151515" stroke-width="1.5" />
<line x1="424.40" y1="279.75" x2="424.40" y2="289.75" stroke="#151515" stroke-width="1.5" />
<line x1="421.60" y1="279.75" x2="427.20" y2="279.75" stroke="#151515" stroke-width="1.5" />
<line x1="421.60" y1="289.75" x2="427.20" y2="289.75" stroke="#151515" stroke-width="1.5" />
<line x1="437.25" y1="281.25" x2="437.25" y2="291.25" stroke="#151515" stroke-width="1.5" />
<line x1="434.45" y1="281.25" x2="440.05" y2="281.25" stroke="#151515" stroke-width="1.5" />
<line x1="434.45" y1="291.25" x2="440.05" y2="291.25" stroke="#151515" stroke-width="1.5" />
<line x1="451.25" y1="271.25" x2="451.25" y2="288.25" stroke="#151515" stroke-width="1.5" />
<line x1="448.45" y1="271.25" x2="454.05" y2="271.25" stroke="#151515" stroke-width="1.5" />
<line x1="448.45" y1="288.25" x2="454.05" y2="288.25" stroke="#151515" stroke-width="1.5" />
<line x1="389.75" y1="298.20" x2="389.75" y2="301.80" stroke="#151515" stroke-width="1.5" />
<line x1="386.95" y1="298.20" x2="392.55" y2="298.20" stroke="#151515" stroke-width="1.5" />
<line x1="386.95" y1="301.80" x2="392.55" y2="301.80" stroke="#151515" stroke-width="1.5" />
<line x1="403.00" y1="295.60" x2="403.00" y2="300.60" stroke="#151515" stroke-width="1.5" />
<line x1="400.20" y1="295.60" x2="405.80" y2="295.60" stroke="#151515" stroke-width="1.5" />
<line x1="400.20" y1="300.60" x2="405.80" y2="300.60" stroke="#151515" stroke-width="1.5" />
<line x1="424.40" y1="294.25" x2="424.40" y2="300.25" stroke="#151515" stroke-width="1.5" />
<line x1="421.60" y1="294.25" x2="427.20" y2="294.25" stroke="#151515" stroke-width="1.5" />
<line x1="421.60" y1="300.25" x2="427.20" y2="300.25" stroke="#151515" stroke-width="1.5" />
<line x1="451.25" y1="290.80" x2="451.25" y2="299.20" stroke="#151515" stroke-width="1.5" />
<line x1="448.45" y1="290.80" x2="454.05" y2="290.80" stroke="#151515" stroke-width="1.5" />
<line x1="448.45" y1="299.20" x2="454.05" y2="299.20" stroke="#151515" stroke-width="1.5" />
<polyline points="301.50,304.50 328.00,303.75 342.25,302.50 356.00,302.75 376.25,301.90 389.75,300.00 403.00,298.10 424.40,297.25 437.25,297.25 451.25,295.00" fill="none" stroke="#28646f" stroke-width="1.7" stroke-linejoin="round"/>
<polyline points="301.50,304.50 328.00,303.75 342.25,299.40 356.00,302.00 376.25,301.00 389.75,295.00 403.00,288.75 424.40,281.90 437.25,279.00 451.25,263.75" fill="none" stroke="#f05068" stroke-width="2" stroke-linejoin="round"/>
<polyline points="301.50,304.50 328.00,303.75 342.25,302.50 356.00,302.75 376.25,300.60 389.75,295.80 403.00,292.25 424.40,284.75 437.25,286.25 451.25,279.75" fill="none" stroke="#d42689" stroke-width="2" stroke-linejoin="round"/>
<polyline points="301.50,304.50 328.00,303.75 342.25,300.00 356.00,296.25 376.25,285.80 389.75,277.80 403.00,269.40 424.40,254.40 437.25,235.00 451.25,220.00" fill="none" stroke="#1a2878" stroke-width="2" stroke-linejoin="round"/>
<rect x="325.90" y="301.65" width="4.20" height="4.20" fill="#3a4ea8"/>
<rect x="353.90" y="294.15" width="4.20" height="4.20" fill="#3a4ea8"/>
<rect x="374.15" y="283.70" width="4.20" height="4.20" fill="#3a4ea8"/>
<rect x="387.65" y="275.70" width="4.20" height="4.20" fill="#3a4ea8"/>
<rect x="400.90" y="267.30" width="4.20" height="4.20" fill="#3a4ea8"/>
<rect x="422.30" y="252.30" width="4.20" height="4.20" fill="#3a4ea8"/>
<rect x="435.15" y="232.90" width="4.20" height="4.20" fill="#3a4ea8"/>
<rect x="449.15" y="217.90" width="4.20" height="4.20" fill="#3a4ea8"/>
<circle cx="328.00" cy="303.75" r="2.10" fill="#3a7684"/>
<circle cx="342.25" cy="302.50" r="2.10" fill="#3a7684"/>
<circle cx="356.00" cy="302.75" r="2.10" fill="#3a7684"/>
<circle cx="376.25" cy="301.90" r="2.10" fill="#3a7684"/>
<circle cx="389.75" cy="300.00" r="2.10" fill="#3a7684"/>
<circle cx="403.00" cy="298.10" r="2.10" fill="#3a7684"/>
<circle cx="424.40" cy="297.25" r="2.10" fill="#3a7684"/>
<circle cx="437.25" cy="297.25" r="2.10" fill="#3a7684"/>
<circle cx="451.25" cy="295.00" r="2.10" fill="#3a7684"/>
<rect x="325.90" y="301.65" width="4.20" height="4.20" fill="#ec20b0"/>
<rect x="340.15" y="300.40" width="4.20" height="4.20" fill="#ec20b0"/>
<rect x="353.90" y="300.65" width="4.20" height="4.20" fill="#ec20b0"/>
<rect x="374.15" y="298.50" width="4.20" height="4.20" fill="#ec20b0"/>
<rect x="387.65" y="293.70" width="4.20" height="4.20" fill="#ec20b0"/>
<rect x="400.90" y="290.15" width="4.20" height="4.20" fill="#ec20b0"/>
<rect x="422.30" y="282.65" width="4.20" height="4.20" fill="#ec20b0"/>
<rect x="435.15" y="284.15" width="4.20" height="4.20" fill="#ec20b0"/>
<rect x="449.15" y="277.65" width="4.20" height="4.20" fill="#ec20b0"/>
<path d="M328.00,301.00 L330.50,305.75 L325.50,305.75 Z" fill="#f04860"/>
<path d="M342.25,296.65 L344.75,301.40 L339.75,301.40 Z" fill="#f04860"/>
<path d="M356.00,299.25 L358.50,304.00 L353.50,304.00 Z" fill="#f04860"/>
<path d="M376.25,298.25 L378.75,303.00 L373.75,303.00 Z" fill="#f04860"/>
<path d="M389.75,292.25 L392.25,297.00 L387.25,297.00 Z" fill="#f04860"/>
<path d="M403.00,286.00 L405.50,290.75 L400.50,290.75 Z" fill="#f04860"/>
<path d="M424.40,279.15 L426.90,283.90 L421.90,283.90 Z" fill="#f04860"/>
<path d="M437.25,276.25 L439.75,281.00 L434.75,281.00 Z" fill="#f04860"/>
<path d="M451.25,261.00 L453.75,265.75 L448.75,265.75 Z" fill="#f04860"/>
<line x1="451.25" y1="271.25" x2="451.25" y2="299.40" stroke="#151515" stroke-width="1.5" />
<line x1="448.45" y1="271.25" x2="454.05" y2="271.25" stroke="#151515" stroke-width="1.5" />
<line x1="448.45" y1="299.40" x2="454.05" y2="299.40" stroke="#151515" stroke-width="1.5" />
<rect x="326.00" y="301.60" width="4" height="4" fill="#9a8ac0" stroke="#4a3a7a" stroke-width="0.9"/>
<rect x="354.00" y="300.60" width="4" height="4" fill="#9a8ac0" stroke="#4a3a7a" stroke-width="0.9"/>
<rect x="374.25" y="299.20" width="4" height="4" fill="#9a8ac0" stroke="#4a3a7a" stroke-width="0.9"/>
<rect x="299.2" y="302.4" width="4" height="4" fill="#b0a0c8" stroke="#5a4a7a" stroke-width="0.9"/>
<line x1="464.60" y1="200.00" x2="464.60" y2="305.00" stroke="#a4acc4" stroke-width="1" />
<line x1="481.50" y1="200.50" x2="481.50" y2="304.50" stroke="#666666" stroke-width="1" />
<line x1="481.50" y1="304.50" x2="483.50" y2="304.50" stroke="#666666" stroke-width="0.7" />
<text x="487.80" y="310.50" font-size="10" font-weight="normal" text-anchor="start" fill="#111" stroke="#111" stroke-width="0.45" >0</text>
<line x1="481.50" y1="292.94" x2="483.50" y2="292.94" stroke="#666666" stroke-width="0.7" />
<text x="487.80" y="298.94" font-size="10" font-weight="normal" text-anchor="start" fill="#111" stroke="#111" stroke-width="0.45" >0.2</text>
<line x1="481.50" y1="281.39" x2="483.50" y2="281.39" stroke="#666666" stroke-width="0.7" />
<text x="487.80" y="287.39" font-size="10" font-weight="normal" text-anchor="start" fill="#111" stroke="#111" stroke-width="0.45" >0.4</text>
<line x1="481.50" y1="269.83" x2="483.50" y2="269.83" stroke="#666666" stroke-width="0.7" />
<text x="487.80" y="275.83" font-size="10" font-weight="normal" text-anchor="start" fill="#111" stroke="#111" stroke-width="0.45" >0.6</text>
<line x1="481.50" y1="258.28" x2="483.50" y2="258.28" stroke="#666666" stroke-width="0.7" />
<text x="487.80" y="264.28" font-size="10" font-weight="normal" text-anchor="start" fill="#111" stroke="#111" stroke-width="0.45" >0.8</text>
<line x1="481.50" y1="246.72" x2="483.50" y2="246.72" stroke="#666666" stroke-width="0.7" />
<text x="487.80" y="252.72" font-size="10" font-weight="normal" text-anchor="start" fill="#111" stroke="#111" stroke-width="0.45" >1.0</text>
<line x1="481.50" y1="235.17" x2="483.50" y2="235.17" stroke="#666666" stroke-width="0.7" />
<text x="487.80" y="241.17" font-size="10" font-weight="normal" text-anchor="start" fill="#111" stroke="#111" stroke-width="0.45" >1.2</text>
<line x1="481.50" y1="223.61" x2="483.50" y2="223.61" stroke="#666666" stroke-width="0.7" />
<text x="487.80" y="229.61" font-size="10" font-weight="normal" text-anchor="start" fill="#111" stroke="#111" stroke-width="0.45" >1.4</text>
<line x1="481.50" y1="212.06" x2="483.50" y2="212.06" stroke="#666666" stroke-width="0.7" />
<text x="487.80" y="218.06" font-size="10" font-weight="normal" text-anchor="start" fill="#111" stroke="#111" stroke-width="0.45" >1.6</text>
<line x1="481.50" y1="200.50" x2="483.50" y2="200.50" stroke="#666666" stroke-width="0.7" />
<text x="487.80" y="206.50" font-size="10" font-weight="normal" text-anchor="start" fill="#111" stroke="#111" stroke-width="0.45" >1.8</text>
<text x="482.50" y="323.00" font-size="10.5" font-weight="bold" text-anchor="middle" fill="#111" stroke="#111" stroke-width="0.3" >Weight</text>
<text transform="translate(516.70,255.00) rotate(-90)" font-size="10.7" font-weight="bold" text-anchor="middle" fill="#111" stroke="#111" stroke-width="0.15">Tumor Weight (g)</text>
<line x1="471.50" y1="207.50" x2="471.50" y2="225.00" stroke="#151515" stroke-width="1.5" />
<line x1="468.70" y1="207.50" x2="474.30" y2="207.50" stroke="#151515" stroke-width="1.5" />
<line x1="468.70" y1="225.00" x2="474.30" y2="225.00" stroke="#151515" stroke-width="1.5" />
<path d="M471.50,213.75 L474.00,216.25 L471.50,218.75 L469.00,216.25 Z" fill="#3444b0"/>
<line x1="471.50" y1="256.70" x2="471.50" y2="267.10" stroke="#151515" stroke-width="1.5" />
<line x1="468.70" y1="256.70" x2="474.30" y2="256.70" stroke="#151515" stroke-width="1.5" />
<line x1="468.70" y1="267.10" x2="474.30" y2="267.10" stroke="#151515" stroke-width="1.5" />
<path d="M471.50,258.76 L473.90,263.32 L469.10,263.32 Z" fill="#f04860"/>
<line x1="471.50" y1="271.60" x2="471.50" y2="297.30" stroke="#151515" stroke-width="1.5" />
<line x1="468.70" y1="271.60" x2="474.30" y2="271.60" stroke="#151515" stroke-width="1.5" />
<line x1="468.70" y1="297.30" x2="474.30" y2="297.30" stroke="#151515" stroke-width="1.5" />
<rect x="469.40" y="275.40" width="4.20" height="4.20" fill="#ec20b0"/>
<rect x="469.10" y="287.6" width="4.8" height="4.8" fill="#4a6a72" stroke="#2a3a40" stroke-width="0.8"/>
</svg></body></html>
